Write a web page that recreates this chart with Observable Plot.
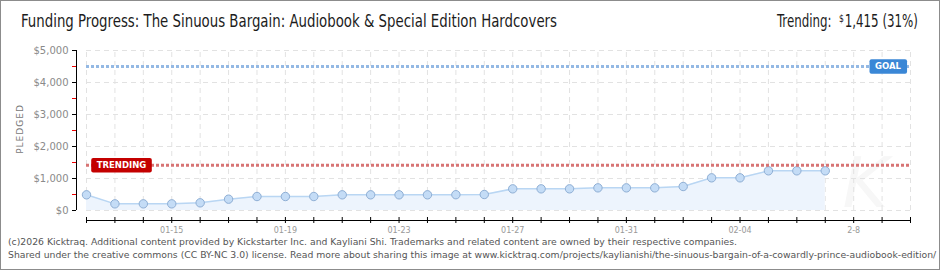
<!DOCTYPE html>
<html><head><meta charset="utf-8">
<script src="https://cdn.jsdelivr.net/npm/d3@7"></script>
<script src="https://cdn.jsdelivr.net/npm/@observablehq/plot@0.6"></script>
<style>
body{margin:0;background:#fff;}
#wrap{position:relative;width:940px;height:270px;overflow:hidden;background:#fff;font-family:"DejaVu Sans",sans-serif;}
#border{position:absolute;left:0;top:0;width:940px;height:270px;box-sizing:border-box;border:1px solid #8c8c8c;pointer-events:none;}
.fit{position:absolute;white-space:nowrap;transform-origin:0 0;}
#title,#trend{top:13px;font-size:17px;line-height:17px;color:#1c1c1c;font-family:"DejaVu Sans Condensed","Liberation Sans Narrow","DejaVu Sans",sans-serif;font-stretch:condensed;}
#title{left:21px;}
#trend{left:777px;}
#trend .cur{font-size:11px;position:relative;top:-5px;margin-right:1px;}
#foot{left:8px;top:236px;font-size:9px;line-height:13px;color:#555;}
#pledged{position:absolute;left:20px;top:129px;transform:translate(-50%,-50%) rotate(-90deg);font-size:9px;letter-spacing:1px;color:#777;white-space:nowrap;}
#chart{position:absolute;left:0;top:40px;}
</style>
</head><body>
<div id="wrap">
  <div id="title" class="fit"></div>
  <div id="trend" class="fit"></div>
  <div id="pledged">PLEDGED</div>
  <div id="chart"></div>
  <div id="foot" class="fit"></div>
  <div id="border"></div>
</div>
<script>
const titleText = "Funding Progress: The Sinuous Bargain: Audiobook & Special Edition Hardcovers";
const footerLines = [
  "(c)2026 Kicktraq. Additional content provided by Kickstarter Inc. and Kayliani Shi. Trademarks and related content are owned by their respective companies.",
  "Shared under the creative commons (CC BY-NC 3.0) license. Read more about sharing this image at www.kicktraq.com/projects/kaylianishi/the-sinuous-bargain-of-a-cowardly-prince-audiobook-edition/"
];
const dates = ["2026-01-12","2026-01-13","2026-01-14","2026-01-15","2026-01-16","2026-01-17","2026-01-18","2026-01-19","2026-01-20","2026-01-21","2026-01-22","2026-01-23","2026-01-24","2026-01-25","2026-01-26","2026-01-27","2026-01-28","2026-01-29","2026-01-30","2026-01-31","2026-02-01","2026-02-02","2026-02-03","2026-02-04","2026-02-05","2026-02-06","2026-02-07"];
const pledged = [490,208,208,208,240,354,437,437,437,490,490,490,490,494,500,677,677,677,708,708,708,750,1021,1021,1240,1240,1240];
const goal = 4500;
const trending = 1415;
const goalLabel = "GOAL";
const trendLabel = "TRENDING";
const xStart = "2026-01-12", xEnd = "2026-02-10";
const xTickDates = ["2026-01-15","2026-01-19","2026-01-23","2026-01-27","2026-01-31","2026-02-04","2026-02-08"];
const xTickLabels = ["01-15","01-19","01-23","01-27","01-31","02-04","2-8"];
const yTicks = [0,1000,2000,3000,4000,5000];
const yMinorTicks = [500,1500,2500,3500,4500];

const parse = d3.utcParse("%Y-%m-%d");
const data = dates.map((d,i)=>({date: parse(d), value: pledged[i]}));
const start = parse(xStart), end = parse(xEnd);
const days = d3.utcDay.range(start, d3.utcDay.offset(end,1));
const labelDates = xTickDates.map(parse);
const labelMap = new Map(labelDates.map((d,i)=>[+d, xTickLabels[i]]));

document.getElementById("title").textContent = titleText;
document.getElementById("trend").innerHTML = 'Trending:&nbsp; <span class="cur">$</span>' + d3.format(",")(trending) + " (" + Math.round(trending/goal*100) + "%)";
document.getElementById("foot").innerHTML = footerLines.join("<br>");

const plot = Plot.plot({
  width: 940, height: 197,
  marginTop: 10, marginBottom: 17, marginLeft: 76, marginRight: 30,
  x: {type: "utc", domain: [start, end], insetLeft: 10},
  y: {domain: [0, 5000], insetBottom: 10},
  style: {fontFamily: "DejaVu Sans, sans-serif", fontSize: "10px", background: "transparent", overflow: "visible"},
  marks: [
    Plot.text(["K"], {frameAnchor: "bottom-right", dx: -45, dy: -14, text: d=>d, fontSize: 70, fontStyle: "italic", fill: "#f7f7f7", lineAnchor: "bottom", textAnchor: "middle"}),
    Plot.ruleY(yTicks, {x1: start, x2: end, stroke: "#e2e2e2", strokeDasharray: "5,4"}),
    Plot.ruleX(days, {y1: 0, y2: 5000, stroke: "#e2e2e2", strokeDasharray: "5,4"}),
    Plot.areaY(data, {x: "date", y: "value", fill: "#edf4fd"}),
    Plot.lineY(data, {x: "date", y: "value", stroke: "#b9d6f3", strokeWidth: 1.5}),
    Plot.dot(data, {x: "date", y: "value", r: 4.2, fill: "#c4dcf6", stroke: "#8eaed4", strokeWidth: 1}),
    Plot.ruleY([goal], {x1: start, x2: end, stroke: "#94b9e4", strokeWidth: 3, strokeDasharray: "3,2"}),
    Plot.ruleY([trending], {x1: start, x2: end, stroke: "#d77474", strokeWidth: 3, strokeDasharray: "3,2"}),
    Plot.text([goal], {x: end, y: d=>d, dx: -22.5, text: ()=>goalLabel, fill: "#fff", fontWeight: "bold", fontSize: 8.5, letterSpacing: "0.6px"}),
    Plot.text([trending], {x: start, y: d=>d, dx: 35, text: ()=>trendLabel, fill: "#fff", fontWeight: "bold", fontSize: 8.5, letterSpacing: "0.6px"}),
    Plot.ruleX([start], {y1: 0, y2: 5000, dx: -10, stroke: "#000"}),
    Plot.axisY({ticks: yTicks, tickSize: 4, tickPadding: 4, tickFormat: d=>"$"+d3.format(",")(d), fill: "#8a8a8a", stroke: "#000", label: null, fontSize: 10}),
    Plot.axisY(yMinorTicks, {tickSize: 4, stroke: "#e00", tickFormat: () => "", label: null}),
    Plot.ruleY([0], {x1: start, x2: end, dy: 10, stroke: "#000"}),
    Plot.axisX(days, {tickSize: 6, dy: -3, stroke: "#000", tickFormat: () => "", label: null}),
    Plot.axisX(labelDates, {tickSize: 0, tickPadding: 7, tickFormat: d=>labelMap.get(+d), fill: "#999", fontSize: 8, label: null})
  ]
});
document.getElementById("chart").appendChild(plot);

function boxBehind(label, fill) {
  const texts = Array.from(plot.querySelectorAll("text")).filter(t => t.textContent === label);
  texts.forEach(t => {
    const b = t.getBBox();
    const r = document.createElementNS("http://www.w3.org/2000/svg", "rect");
    const cy = b.y + b.height/2;
    r.setAttribute("x", b.x - 5.5);
    r.setAttribute("width", b.width + 11);
    r.setAttribute("y", cy - 7);
    r.setAttribute("height", 14.5);
    r.setAttribute("rx", 2);
    r.setAttribute("fill", fill);
    r.style.fill = fill;
    if (t.getAttribute("transform")) r.setAttribute("transform", t.getAttribute("transform"));
    t.parentNode.insertBefore(r, t);
  });
}
boxBehind(goalLabel, "#3a87d6");
boxBehind(trendLabel, "#c40000");

function textWidth(str, font) {
  const probe = document.createElement("span");
  probe.style.cssText = "position:absolute;visibility:hidden;white-space:nowrap;" + font;
  probe.innerHTML = str;
  document.body.appendChild(probe);
  const w = probe.getBoundingClientRect().width;
  probe.remove();
  return w;
}
function fit(id, target) {
  const el = document.getElementById(id);
  const w = el.getBoundingClientRect().width;
  el.style.transform = `scaleX(${target / w})`;
}
fit("title", 536);
fit("trend", 141);
(function(){
  const el = document.getElementById("foot");
  const w = textWidth(footerLines[0], "font-size:9px;font-family:'DejaVu Sans',sans-serif;");
  el.style.transform = `scaleX(${729 / w})`;
})();
</script>
</body></html>
